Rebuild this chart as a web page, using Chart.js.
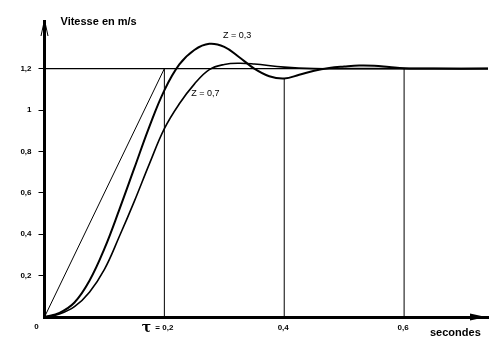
<!DOCTYPE html>
<html><head><meta charset="utf-8">
<script src="https://cdn.jsdelivr.net/npm/chart.js@4.4.0/dist/chart.umd.min.js"></script>
<style>html,body{margin:0;padding:0;background:#fff;} #wrap{width:495px;height:356px;position:relative;}</style>
</head><body><div id="wrap"><canvas id="c" width="495" height="356"></canvas></div>
<script>
// Time (s) and speed (m/s)
const tZ03 = [0, 0.025, 0.05, 0.075, 0.1, 0.125, 0.15, 0.175, 0.2, 0.225, 0.25, 0.275, 0.3, 0.325, 0.35, 0.375, 0.4, 0.425, 0.45, 0.475, 0.5, 0.525, 0.55, 0.575, 0.6, 0.65, 0.74];
const vZ03 = [0, 0.02, 0.07, 0.175, 0.33, 0.52, 0.72, 0.92, 1.095, 1.22, 1.29, 1.32, 1.305, 1.255, 1.2, 1.163, 1.152, 1.17, 1.19, 1.203, 1.21, 1.215, 1.214, 1.208, 1.202, 1.2, 1.2];
const tZ07 = [0, 0.025, 0.05, 0.075, 0.1, 0.125, 0.15, 0.175, 0.2, 0.225, 0.25, 0.275, 0.3, 0.325, 0.35, 0.4, 0.45, 0.5, 0.74];
const vZ07 = [0, 0.015, 0.05, 0.12, 0.23, 0.39, 0.56, 0.74, 0.91, 1.03, 1.125, 1.195, 1.22, 1.226, 1.222, 1.207, 1.2, 1.2, 1.2];
const tangentT = [0, 0.2];
const tangentV = [0, 1.2];
const setpointT = [0, 0.74];
const setpointV = [1.2, 1.2];
const markerT = [0.2, 0.4, 0.6];
const markerTop = [1.2, 1.15, 1.2];
const yTickValues = [0.2, 0.4, 0.6, 0.8, 1, 1.2];
const yTickLabels = ['0,2', '0,4', '0,6', '0,8', '1', '1,2'];
const xTickValues = [0, 0.2, 0.4, 0.6];
const xTickLabels = ['0', '= 0,2', '0,4', '0,6'];
const curveLabels = ['Z = 0,3', 'Z = 0,7'];
const curveLabelT = [0.298, 0.245];
const curveLabelV = [1.36, 1.08];

const pts = (xs, ys) => xs.map((x, i) => ({x: x, y: ys[i]}));
const datasets = [
  {data: pts(tZ03, vZ03), borderWidth: 2, tension: 0.4},
  {data: pts(tZ07, vZ07), borderWidth: 1.6, tension: 0.4},
  {data: pts(tangentT, tangentV), borderWidth: 1},
  {data: pts(setpointT, setpointV), borderWidth: 1.2}
];
markerT.forEach((t, i) => datasets.push({data: pts([t, t], [0, markerTop[i]]), borderWidth: 1}));
datasets.forEach(d => { d.borderColor = '#000'; d.pointRadius = 0; d.showLine = true; d.fill = false; });

const FONT = 'Liberation Sans, Arial, sans-serif';
const decor = {
  id: 'decor',
  afterDraw(chart) {
    const ctx = chart.ctx, a = chart.chartArea, xs = chart.scales.x, ys = chart.scales.y;
    ctx.save();
    ctx.fillStyle = '#000'; ctx.strokeStyle = '#000';
    // y-axis arrow
    ctx.lineWidth = 1;
    ctx.beginPath();
    ctx.moveTo(a.left - 3.5, a.top + 15); ctx.lineTo(a.left, a.top - 1); ctx.lineTo(a.left + 3.5, a.top + 15);
    ctx.stroke();
    // x-axis arrow
    ctx.beginPath();
    ctx.moveTo(a.right - 18, a.bottom - 3.5); ctx.lineTo(a.right - 2, a.bottom); ctx.lineTo(a.right - 18, a.bottom + 3.5);
    ctx.closePath(); ctx.fill();
    // axis titles
    ctx.font = 'bold 11px ' + FONT;
    ctx.textBaseline = 'middle'; ctx.textAlign = 'left';
    ctx.fillText('Vitesse en m/s', a.left + 16, a.top + 1);
    ctx.fillText('secondes', a.right - 58, a.bottom + 16);
    // x tick labels
    xTickValues.forEach((v, i) => {
      const px = xs.getPixelForValue(v);
      const py = a.bottom + 11;
      if (v === 0) {
        ctx.font = 'bold 8px ' + FONT; ctx.textAlign = 'center';
        ctx.fillText(xTickLabels[i], px - 8, py - 1);
      } else if (Math.abs(v - 0.2) < 1e-9) {
        ctx.font = 'bold 14px DejaVu Serif, serif'; ctx.textAlign = 'center';
        ctx.fillText('τ', px - 18, py);
        ctx.font = 'bold 8px ' + FONT; ctx.textAlign = 'left';
        ctx.fillText(xTickLabels[i], px - 9, py);
      } else {
        ctx.font = 'bold 8px ' + FONT; ctx.textAlign = 'center';
        ctx.fillText(xTickLabels[i], px - 1, py);
      }
    });
    // curve labels
    ctx.font = '9px ' + FONT; ctx.textAlign = 'left';
    curveLabels.forEach((s, i) => {
      ctx.fillText(s, xs.getPixelForValue(curveLabelT[i]), ys.getPixelForValue(curveLabelV[i]));
    });
    ctx.restore();
  }
};

new Chart(document.getElementById('c'), {
  type: 'scatter',
  data: {datasets: datasets},
  options: {
    responsive: false, animation: false, devicePixelRatio: 1,
    layout: {padding: {top: 21, right: 7, left: 0, bottom: 0}},
    plugins: {legend: {display: false}, tooltip: {enabled: false}},
    scales: {
      x: {
        type: 'linear', min: 0, max: 0.74,
        grid: {display: false},
        border: {display: true, color: '#000', width: 3},
        ticks: {display: false},
        afterFit(s) { s.height = 39; }
      },
      y: {
        type: 'linear', min: 0, max: 1.43,
        afterBuildTicks(s) { s.ticks = yTickValues.map(v => ({value: v})); },
        grid: {display: true, drawOnChartArea: false, drawTicks: true, tickLength: 6, color: '#000', lineWidth: 1},
        border: {display: true, color: '#000', width: 3},
        ticks: {
          padding: 7, color: '#000', font: {family: FONT, size: 8, weight: 'bold'},
          callback: (v) => { const i = yTickValues.indexOf(v); return i >= 0 ? yTickLabels[i] : ''; }
        },
        afterFit(s) { s.width = 44.5; }
      }
    }
  },
  plugins: [decor]
});
</script></body></html>
